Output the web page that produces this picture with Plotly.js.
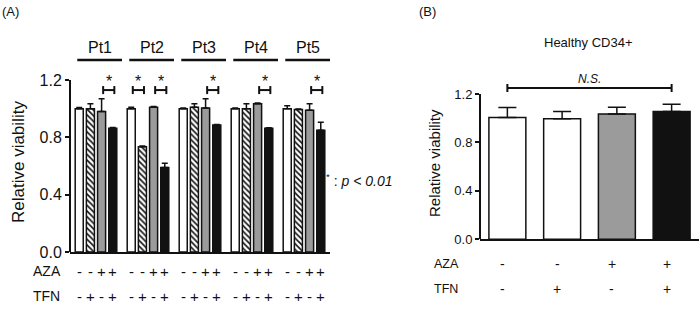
<!DOCTYPE html>
<html>
<head>
<meta charset="utf-8">
<script src="https://cdn.plot.ly/plotly-3.0.1.min.js"></script>
<style>html,body{margin:0;padding:0;background:#fff;}#chart{width:700px;height:310px;}</style>
</head>
<body>
<div id="chart"></div>
<script>
// ---------- data ----------
const patients = ['Pt1', 'Pt2', 'Pt3', 'Pt4', 'Pt5'];
const azaSigns = ['-', '-', '+', '+'];
const tfnSigns = ['-', '+', '-', '+'];

// Panel A: relative viability per patient
const ctrlA = [1.00, 1.00, 1.00, 1.00, 1.00];
const ctrlErrA = [0.008, 0.01, 0.005, 0.005, 0.02];
const tfnA = [1.00, 0.735, 1.01, 1.00, 0.995];
const tfnErrA = [0.035, 0.005, 0.025, 0.035, 0.003];
const azaA = [0.98, 1.01, 1.005, 1.035, 0.99];
const azaErrA = [0.09, 0.005, 0.065, 0.004, 0.045];
const comboA = [0.863, 0.59, 0.886, 0.863, 0.85];
const comboErrA = [0.005, 0.03, 0.004, 0.004, 0.055];
// significance brackets: [patient index, bar from, bar to]
const sigA = [[0, 2, 3], [1, 0, 1], [1, 2, 3], [2, 2, 3], [3, 2, 3], [4, 2, 3]];

// Panel B: healthy CD34+
const condB = ['Ctrl', 'TFN', 'AZA', 'AZA+TFN'];
const valB = [1.005, 0.995, 1.035, 1.055];
const errB = [0.083, 0.06, 0.055, 0.06];

// ---------- styles ----------
const FONT = 'Arial, "Liberation Sans", sans-serif';
const INK = '#111111';
const GRAY = '#9b9b9b';
const fills = ['#ffffff', '#ffffff', GRAY, INK];
const patterns = ['', '\\', '', ''];
const BARGAP = 0.14, GROUPGAP = 0.28;
const slot = (1 - BARGAP) / 4;
const barX = (g, i) => g + (i - 1.5) * slot;
const H = 310;
const py = px => 1 - px / H;

const seriesA = [[ctrlA, ctrlErrA], [tfnA, tfnErrA], [azaA, azaErrA], [comboA, comboErrA]];
const traces = seriesA.map((s, i) => ({
  type: 'bar', x: patients, y: s[0], xaxis: 'x', yaxis: 'y',
  marker: {color: fills[i], line: {color: INK, width: 1.5},
    pattern: {shape: patterns[i], fgcolor: INK, bgcolor: fills[i], size: 4, solidity: 0.4}},
  error_y: {type: 'data', symmetric: false, array: s[1], arrayminus: s[1].map(() => 0),
    color: INK, thickness: 1.5, width: 3},
  hoverinfo: 'skip'
}));
traces.push({
  type: 'bar', x: condB, y: valB, xaxis: 'x2', yaxis: 'y2', width: 0.675,
  marker: {color: fills, line: {color: INK, width: 1.5},
    pattern: {shape: patterns, fgcolor: INK, size: 3.5, solidity: 0.45}},
  error_y: {type: 'data', symmetric: false, array: errB, arrayminus: errB.map(() => 0),
    color: INK, thickness: 1.5, width: 9},
  hoverinfo: 'skip'
});

const shapes = [];
const annotations = [];
const line = (o, w) => Object.assign({type: 'line', line: {color: INK, width: w || 2}}, o);
const ann = o => Object.assign({showarrow: false, xanchor: 'center', yanchor: 'middle'}, o);

// y-axis lines (stop at 1.2)
shapes.push(line({xref: 'x domain', x0: 0, x1: 0, yref: 'y', y0: 0, y1: 1.2}));
shapes.push(line({xref: 'x2 domain', x0: 0, x1: 0, yref: 'y2', y0: 0, y1: 1.2}));

// patient headers with underline
patients.forEach((p, g) => {
  annotations.push(ann({xref: 'x', yref: 'paper', x: g, y: py(48), xshift: 4, text: p,
    font: {size: 16, color: INK, family: FONT}}));
  shapes.push(line({xref: 'x', x0: g - 0.36, x1: Math.min(g + 0.5, 4.5), yref: 'paper', y0: py(60), y1: py(60)}, 2.5));
  azaSigns.forEach((s, i) => {
    annotations.push(ann({xref: 'x', yref: 'paper', x: barX(g, i), y: py(271), text: s,
      font: {size: 15, color: INK, family: FONT}}));
    annotations.push(ann({xref: 'x', yref: 'paper', x: barX(g, i), y: py(296), text: tfnSigns[i],
      font: {size: 15, color: INK, family: FONT}}));
  });
});

// significance brackets A
sigA.forEach(([g, a, b]) => {
  const x0 = barX(g, a) + 0.03, x1 = barX(g, b) + 0.03, yb = 1.13;
  shapes.push(line({xref: 'x', yref: 'y', x0: x0, x1: x1, y0: yb, y1: yb}));
  shapes.push(line({xref: 'x', yref: 'y', x0: x0, x1: x0, y0: yb - 0.028, y1: yb + 0.028}));
  shapes.push(line({xref: 'x', yref: 'y', x0: x1, x1: x1, y0: yb - 0.028, y1: yb + 0.028}));
  annotations.push(ann({xref: 'x', yref: 'y', x: (x0 + x1) / 2, y: 1.19, text: '*',
    font: {size: 16, color: INK, family: FONT}}));
});

// N.S. bracket B
shapes.push(line({xref: 'x2', yref: 'y2', x0: 0, x1: 3, y0: 1.25, y1: 1.25}));
shapes.push(line({xref: 'x2', yref: 'y2', x0: 0, x1: 0, y0: 1.217, y1: 1.283}));
shapes.push(line({xref: 'x2', yref: 'y2', x0: 3, x1: 3, y0: 1.217, y1: 1.283}));
annotations.push(ann({xref: 'x2', yref: 'y2', x: 1.5, y: 1.32, text: '<i>N.S.</i>',
  font: {size: 12, color: INK, family: FONT}}));

// B condition signs
condB.forEach((c, i) => {
  annotations.push(ann({xref: 'x2', yref: 'paper', x: i, xshift: -5, y: py(264), text: azaSigns[i],
    font: {size: 14, color: INK, family: FONT}}));
  annotations.push(ann({xref: 'x2', yref: 'paper', x: i, xshift: -5, y: py(289), text: tfnSigns[i],
    font: {size: 14, color: INK, family: FONT}}));
});

// labels
const txt = (x, y, t, size, extra) => ann(Object.assign({xref: 'paper', yref: 'paper', x: x / 700, y: py(y),
  text: t, xanchor: 'left', font: {size: size, color: INK, family: FONT}}, extra || {}));
annotations.push(txt(0, 11, '(A)', 13));
annotations.push(txt(417, 11, '(B)', 13));
annotations.push(txt(31, 271, 'AZA', 14));
annotations.push(txt(31, 296, 'TFN', 14));
annotations.push(txt(432, 264, 'AZA', 12.5));
annotations.push(txt(432, 289, 'TFN', 12.5));
annotations.push(txt(588, 42, 'Healthy CD34+', 13, {xanchor: 'center'}));
annotations.push(txt(324, 180, '<sup>*</sup> : <i>p &lt; 0.01</i>', 14));
annotations.push(txt(18, 162, 'Relative viability', 17, {xanchor: 'center', textangle: -90}));
annotations.push(txt(434, 163, 'Relative viability', 15, {xanchor: 'center', textangle: -90}));

const yaxisBase = {showline: false, zeroline: false, showgrid: false, ticks: 'outside', ticklen: 4,
  tickwidth: 2, tickcolor: INK, tickvals: [0, 0.4, 0.8, 1.2], tickformat: '.1f', fixedrange: true};

const layout = {
  width: 700, height: 310, margin: {l: 0, r: 0, t: 0, b: 0},
  paper_bgcolor: '#ffffff', plot_bgcolor: 'rgba(0,0,0,0)', showlegend: false,
  font: {family: FONT, color: INK},
  barmode: 'group', bargap: BARGAP, bargroupgap: GROUPGAP,
  xaxis: {domain: [70 / 700, 330 / 700], anchor: 'y', type: 'category', range: [-0.5, 4.5],
    showline: true, linewidth: 2, linecolor: INK, showticklabels: false, ticks: '', showgrid: false, zeroline: false, fixedrange: true},
  yaxis: Object.assign({}, yaxisBase, {domain: [py(252), py(30)], anchor: 'x', range: [0, (252 - 30) / 143.3],
    tickfont: {size: 16, color: INK, family: FONT}}),
  xaxis2: {domain: [480 / 700, 699 / 700], anchor: 'y2', type: 'category', range: [-0.5, 3.5],
    showline: true, linewidth: 2, linecolor: INK, showticklabels: false, ticks: '', showgrid: false, zeroline: false, fixedrange: true},
  yaxis2: Object.assign({}, yaxisBase, {domain: [py(239.3), py(30)], anchor: 'x2', range: [0, (239.3 - 30) / 121.1],
    tickfont: {size: 13, color: INK, family: FONT}}),
  shapes: shapes, annotations: annotations
};

Plotly.newPlot('chart', traces, layout, {displayModeBar: false, staticPlot: true});
</script>
</body>
</html>
